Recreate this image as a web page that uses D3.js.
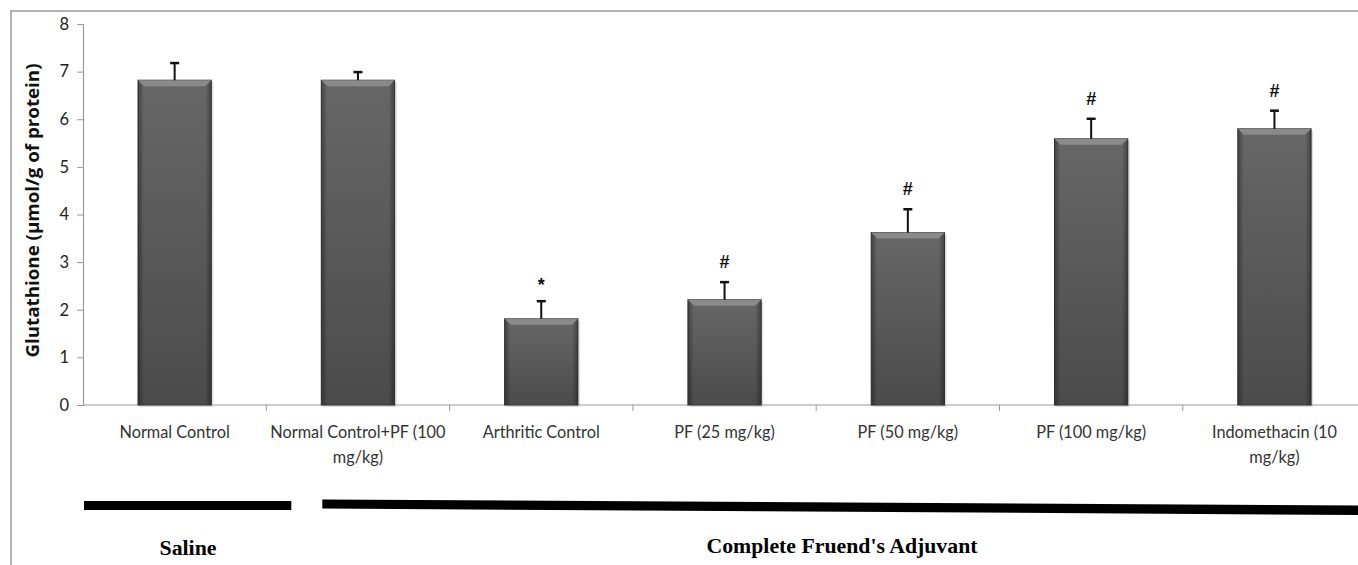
<!DOCTYPE html>
<html><head><meta charset="utf-8">
<script src="https://cdn.jsdelivr.net/npm/d3@7"></script>
<style>html,body{margin:0;padding:0;background:#fff;}svg{display:block;}</style>
</head><body>
<svg id="chart" width="1358" height="565"></svg>
<script>
const categories = ["Normal Control", "Normal Control+PF (100 mg/kg)", "Arthritic Control", "PF (25 mg/kg)", "PF (50 mg/kg)", "PF (100 mg/kg)", "Indomethacin (10 mg/kg)"];
const labelLines = [["Normal Control"], ["Normal Control+PF (100", "mg/kg)"], ["Arthritic Control"], ["PF (25 mg/kg)"], ["PF (50 mg/kg)"], ["PF (100 mg/kg)"], ["Indomethacin (10", "mg/kg)"]];
const values = [6.82, 6.82, 1.81, 2.21, 3.62, 5.59, 5.80];
const errors = [0.36, 0.17, 0.37, 0.37, 0.49, 0.42, 0.38];
const marks = ["", "", "*", "#", "#", "#", "#"];
const yTicks = [0, 1, 2, 3, 4, 5, 6, 7, 8];
const yTitle = "Glutathione (\u00b5mol/g of protein)";
const groupLabels = ["Saline", "Complete Fruend's Adjuvant"];
const groupFrom = [0, 1];
const groupTo = [0, 6];

(function () {
const svg = d3.select("#chart");
const left = 83, plotTop = 24, bottom = 405;
const step = 183.3;
const x = d3.scaleBand().domain(categories).range([left, left + step * categories.length]).paddingInner(0.6).paddingOuter(0.3);
const xc = d3.scaleBand().domain(categories).range([left, left + step * categories.length]).padding(0);
const y = d3.scaleLinear().domain([0, 8]).range([bottom, plotTop]);

svg.append("path").attr("d", "M11,565 L11,11 L1358,11").attr("fill", "none").attr("stroke", "#9a9a9a").attr("stroke-width", 1.5);

const defs = svg.append("defs");
const g = defs.append("linearGradient").attr("id", "barg").attr("x1", 0).attr("y1", 0).attr("x2", 0).attr("y2", 1);
g.append("stop").attr("offset", "0%").attr("stop-color", "#676767");
g.append("stop").attr("offset", "100%").attr("stop-color", "#4b4b4b");
const gh = defs.append("linearGradient").attr("id", "barh").attr("x1", 0).attr("y1", 0).attr("x2", 1).attr("y2", 0);
gh.append("stop").attr("offset", "0%").attr("stop-color", "#000").attr("stop-opacity", 0.35);
gh.append("stop").attr("offset", "8%").attr("stop-color", "#000").attr("stop-opacity", 0);
gh.append("stop").attr("offset", "92%").attr("stop-color", "#000").attr("stop-opacity", 0);
gh.append("stop").attr("offset", "100%").attr("stop-color", "#000").attr("stop-opacity", 0.35);

const yAxis = d3.axisLeft(y).tickValues(yTicks).tickSize(6).tickPadding(8).tickFormat(d3.format("d"));
const ya = svg.append("g").attr("transform", `translate(${left},0)`).call(yAxis);
ya.select(".domain").attr("stroke", "#999").attr("stroke-width", 1.2);
ya.selectAll(".tick line").attr("stroke", "#999");
ya.selectAll(".tick text").attr("font-family", "Lato, 'Open Sans', sans-serif").attr("font-size", 16.5).attr("fill", "#222");

svg.append("line").attr("x1", left).attr("x2", 1358).attr("y1", bottom).attr("y2", bottom).attr("stroke", "#999").attr("stroke-width", 1.2);
svg.selectAll(".xt").data(categories).enter().append("line")
  .attr("x1", d => xc(d) + xc.bandwidth()).attr("x2", d => xc(d) + xc.bandwidth())
  .attr("y1", bottom).attr("y2", bottom + 6).attr("stroke", "#999");

const bars = svg.selectAll(".bar").data(categories).enter().append("g");
bars.append("rect").attr("x", d => x(d) + 2).attr("y", (d, i) => y(values[i]) + 2)
  .attr("width", x.bandwidth()).attr("height", (d, i) => bottom - y(values[i])).attr("fill", "#bbb").attr("opacity", 0.5);
bars.append("rect").attr("x", d => x(d)).attr("y", (d, i) => y(values[i]))
  .attr("width", x.bandwidth()).attr("height", (d, i) => bottom - y(values[i]))
  .attr("fill", "url(#barg)").attr("stroke", "#3c3c3c").attr("stroke-width", 1);
bars.append("rect").attr("x", d => x(d)).attr("y", (d, i) => y(values[i]))
  .attr("width", x.bandwidth()).attr("height", (d, i) => bottom - y(values[i]))
  .attr("fill", "url(#barh)");
bars.append("path").attr("d", (d, i) => {
  const x0 = x(d), x1 = x(d) + x.bandwidth(), yt = y(values[i]);
  return `M${x0},${yt} L${x1},${yt} L${x1 - 6},${yt + 6} L${x0 + 6},${yt + 6} Z`;
}).attr("fill", "#8a8a8a");

const cx = d => x(d) + x.bandwidth() / 2;
svg.selectAll(".err").data(categories).enter().append("line")
  .attr("x1", cx).attr("x2", cx)
  .attr("y1", (d, i) => y(values[i])).attr("y2", (d, i) => y(values[i] + errors[i]))
  .attr("stroke", "#111").attr("stroke-width", 2);
svg.selectAll(".cap").data(categories).enter().append("line")
  .attr("x1", d => cx(d) - 4.5).attr("x2", d => cx(d) + 4.5)
  .attr("y1", (d, i) => y(values[i] + errors[i])).attr("y2", (d, i) => y(values[i] + errors[i]))
  .attr("stroke", "#111").attr("stroke-width", 2.5);

svg.selectAll(".mark").data(categories).enter().append("text")
  .attr("x", cx).attr("y", (d, i) => y(values[i] + errors[i]) - (marks[i] === "*" ? 10 : 14))
  .attr("text-anchor", "middle").attr("font-family", "'Liberation Sans', Arial, sans-serif")
  .attr("font-weight", "bold").attr("font-size", 18).attr("fill", "#111")
  .text((d, i) => marks[i]);

const lab = svg.selectAll(".lab").data(categories).enter().append("text")
  .attr("x", d => xc(d) + xc.bandwidth() / 2).attr("y", 438)
  .attr("text-anchor", "middle").attr("font-family", "Lato, 'Open Sans', sans-serif")
  .attr("font-size", 16.3).attr("fill", "#333");
lab.each(function (d, i) {
  const t = d3.select(this);
  labelLines[i].forEach((ln, k) => {
    t.append("tspan").attr("x", xc(d) + xc.bandwidth() / 2).attr("dy", k === 0 ? 0 : 25).text(ln);
  });
});

svg.append("text").attr("transform", `translate(39,${(plotTop + bottom) / 2 - 4}) rotate(-90)`)
  .attr("text-anchor", "middle").attr("font-family", "'Open Sans', 'Noto Sans', sans-serif")
  .attr("font-weight", "bold").attr("font-size", 18).attr("textLength", 294).attr("lengthAdjust", "spacingAndGlyphs")
  .attr("fill", "#111").text(yTitle);

groupLabels.forEach((lbl, i) => {
  const x0 = groupFrom[i] === 0 ? xc(categories[0]) + 1 : xc(categories[groupFrom[i]]) + 56;
  const x1 = groupTo[i] === 0 ? xc(categories[1]) + 25 : 1358;
  if (i === 0) {
    svg.append("rect").attr("x", x0).attr("y", 501).attr("width", x1 - x0).attr("height", 9).attr("fill", "#000");
  } else {
    svg.append("path").attr("d", `M${x0},499.5 L${x1},505.5 L${x1},515 L${x0},508.5 Z`).attr("fill", "#000");
  }
});
svg.append("text").attr("x", 188).attr("y", 555).attr("text-anchor", "middle")
  .attr("font-family", "'Liberation Serif', 'Times New Roman', serif").attr("font-weight", "bold")
  .attr("font-size", 20).attr("textLength", 57).attr("lengthAdjust", "spacingAndGlyphs").text(groupLabels[0]);
svg.append("text").attr("x", 842).attr("y", 553).attr("text-anchor", "middle")
  .attr("font-family", "'Liberation Serif', 'Times New Roman', serif").attr("font-weight", "bold")
  .attr("font-size", 21).attr("textLength", 271).attr("lengthAdjust", "spacingAndGlyphs").text(groupLabels[1]);
})();
</script>
</body></html>
